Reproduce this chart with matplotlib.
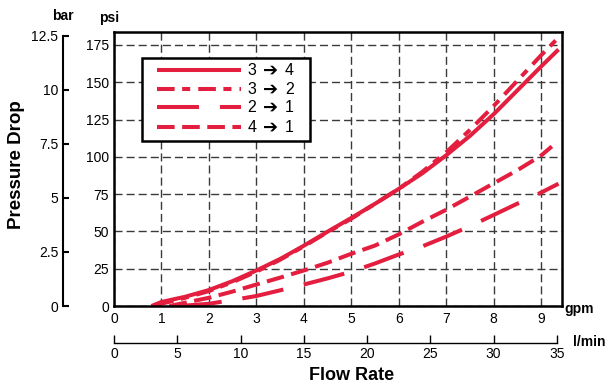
import matplotlib
matplotlib.use("Agg")
import matplotlib.pyplot as plt
from matplotlib.lines import Line2D
from matplotlib.patches import Rectangle

plt.rcParams['font.family'] = ['Liberation Sans', 'DejaVu Sans']
plt.rcParams['lines.scale_dashes'] = False

# ---- data (gpm, psi) ----
gpm_34 = [0.79, 1.0, 1.5, 2.0, 2.5, 3.0, 3.5, 4.0, 4.5, 5.0, 5.5, 6.0, 6.5, 7.0, 7.5, 8.0, 8.5, 9.0, 9.37]
psi_34 = [0.0, 2.7, 6.2, 10.7, 16.7, 23.8, 31.5, 40.4, 49.8, 59.0, 68.5, 78.5, 89.0, 101.0, 114.0, 128.5, 144.5, 160.5, 172.0]

gpm_32 = [0.9, 1.0, 1.5, 2.0, 2.5, 3.0, 3.5, 4.0, 4.5, 5.0, 5.5, 6.0, 6.5, 7.0, 7.5, 8.0, 8.5, 9.0, 9.37]
psi_32 = [0.0, 1.5, 5.5, 10.0, 16.0, 23.0, 31.0, 40.0, 49.5, 58.5, 68.5, 78.5, 90.0, 103.0, 118.0, 134.0, 151.0, 168.0, 180.0]

gpm_21 = [1.39, 2.0, 2.5, 3.0, 3.5, 4.0, 4.5, 5.0, 5.5, 6.0, 6.5, 7.0, 7.5, 8.0, 8.5, 9.0, 9.37]
psi_21 = [0.0, 1.5, 4.0, 6.7, 10.5, 14.4, 18.5, 23.0, 28.5, 34.5, 40.0, 46.5, 53.5, 61.0, 68.6, 76.0, 82.0]

gpm_41 = [1.17, 1.5, 2.0, 2.5, 3.0, 3.5, 4.0, 4.5, 5.0, 5.5, 6.0, 6.5, 7.0, 7.5, 8.0, 8.5, 9.0, 9.23]
psi_41 = [0.0, 2.2, 5.5, 9.7, 14.4, 19.0, 23.8, 29.0, 35.0, 40.5, 48.0, 56.5, 64.5, 73.3, 82.2, 91.0, 100.8, 107.0]

legend_from = ["3", "3", "2", "4"]
legend_to = ["4", "2", "1", "1"]
ARROW = "\u2794"

gpm_ticks = list(range(0, 10))
psi_ticks = [0, 25, 50, 75, 100, 125, 150, 175]
bar_ticks = [0, 2.5, 5, 7.5, 10, 12.5]
bar_tick_labels = ["0", "2.5", "5", "7.5", "10", "12.5"]
lmin_ticks = [0, 5, 10, 15, 20, 25, 30, 35]

PSI_PER_BAR = 14.5038
RED = '#E31E3E'
LW = 2.9

styles = [
    dict(linestyle='-'),
    dict(linestyle=(0, (12.7, 5.4, 5.8, 5.8))),
    dict(linestyle=(0, (30.2, 15.1))),
    dict(linestyle=(0, (12.7, 5.4))),
]
series = [(gpm_34, psi_34), (gpm_32, psi_32), (gpm_21, psi_21), (gpm_41, psi_41)]

W, H = 609, 384
fig = plt.figure(figsize=(W / 100, H / 100), dpi=100)

def fx(x):
    return x / W

def fy(y):
    return 1 - y / H

ax_l, ax_r, ax_t, ax_b = 114, 561.5, 32, 306
ax = fig.add_axes([fx(ax_l), fy(ax_b), (ax_r - ax_l) / W, (ax_b - ax_t) / H])
px_per_gpm = 47.44
px_per_psi = 261 / 175
XMAX = (ax_r - ax_l) / px_per_gpm
YMAX = (ax_b - ax_t) / px_per_psi
ax.set_xlim(0, XMAX)
ax.set_ylim(0, YMAX)

for (xs, ys), st in zip(series, styles):
    ax.plot(xs, ys, color=RED, lw=LW, solid_capstyle='butt', dash_capstyle='butt',
            solid_joinstyle='round', zorder=3, **st)

ax.set_xticks(gpm_ticks)
ax.set_yticks(psi_ticks)
ax.tick_params(axis='both', length=0, labelsize=10)
ax.tick_params(axis='x', pad=4)
ax.tick_params(axis='y', pad=3.5)
ax.grid(True, color='#3a3a3a', linestyle=(0, (5.8, 2.9)), lw=1.0, zorder=1)
for s in ax.spines.values():
    s.set_linewidth(1.8)
    s.set_zorder(4)

# bar axis
axb = fig.add_axes([fx(63), fy(ax_b), 0.0001, (ax_b - ax_t) / H])
axb.set_ylim(0, YMAX / PSI_PER_BAR)
axb.set_xticks([])
for k in ['right', 'top', 'bottom']:
    axb.spines[k].set_visible(False)
axb.spines['left'].set_linewidth(1.5)
axb.spines['left'].set_bounds(0, 12.5)
axb.set_yticks(bar_ticks)
axb.set_yticklabels(bar_tick_labels)
axb.tick_params(axis='y', direction='in', length=4.5, width=1.5, labelsize=10, pad=3.5)
axb.patch.set_visible(False)

# l/min axis
lmin_px = 12.65
axl = fig.add_axes([fx(ax_l), fy(343), (ax_r - ax_l) / W, 0.0001])
axl.set_xlim(0, (ax_r - ax_l) / lmin_px)
axl.set_yticks([])
for k in ['left', 'right', 'top']:
    axl.spines[k].set_visible(False)
axl.spines['bottom'].set_linewidth(1.0)
axl.spines['bottom'].set_bounds(0, 35)
axl.set_xticks(lmin_ticks)
axl.tick_params(axis='x', direction='in', length=5.8, width=1.0, labelsize=10, pad=3)
axl.patch.set_visible(False)

# labels
bold = dict(fontweight='bold')
fig.text(fx(63), fy(16), "bar", ha='center', va='center', fontsize=10, **bold)
fig.text(fx(109), fy(18), "psi", ha='center', va='center', fontsize=10, **bold)
fig.text(fx(564), fy(309), "gpm", ha='left', va='center', fontsize=10, **bold)
fig.text(fx(573), fy(342), "l/min", ha='left', va='center', fontsize=10, **bold)
fig.text(fx(17), fy(165), "Pressure Drop", ha='center', va='center', rotation=90, fontsize=13.5, **bold)
fig.text(fx(352), fy(376), "Flow Rate", ha='center', va='center', fontsize=13, **bold)

# legend (manual box)
fig.patches.append(Rectangle((fx(142.3), fy(140.7)), (310 - 142.3) / W, (140.7 - 58.3) / H,
                             transform=fig.transFigure, fill=True, facecolor='white',
                             edgecolor='black', lw=1.8, zorder=5))
rows = [70, 88.7, 107.3, 127]
for a, b, st, yr in zip(legend_from, legend_to, styles, rows):
    fig.lines.append(Line2D([fx(156.7), fx(241)], [fy(yr), fy(yr)], transform=fig.transFigure,
                            color=RED, lw=LW, solid_capstyle='butt', dash_capstyle='butt', zorder=6, **st))
    fig.text(fx(247.5), fy(yr + 0.5), a, ha='left', va='center', fontsize=11.5, zorder=6)
    fig.text(fx(270.5), fy(yr + 0.5), ARROW, ha='center', va='center', fontsize=13,
             family=['DejaVu Sans'], fontweight='bold', zorder=6)
    fig.text(fx(285), fy(yr + 0.5), b, ha='left', va='center', fontsize=11.5, zorder=6)

fig.savefig("out.png", dpi=100)
